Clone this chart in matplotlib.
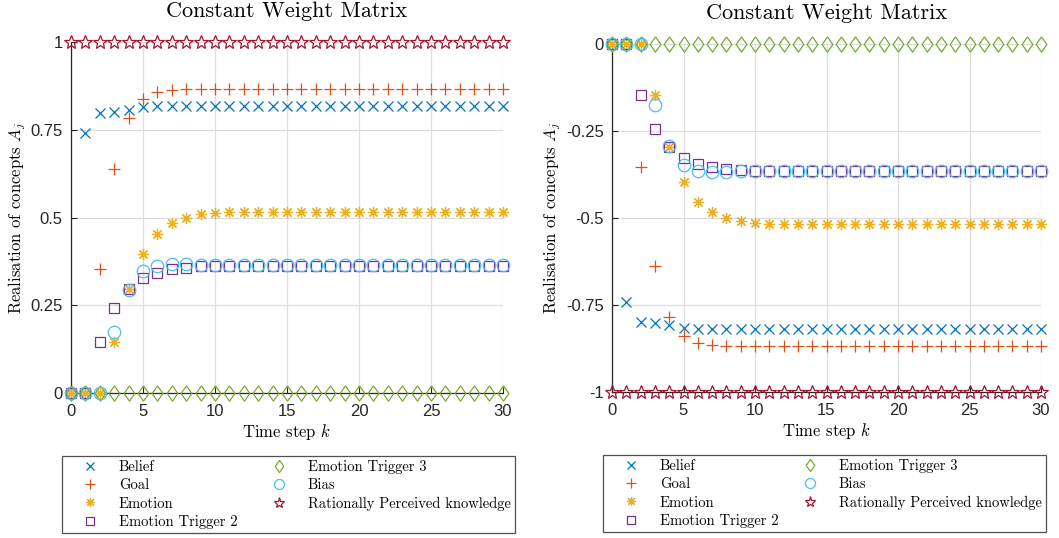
import matplotlib
matplotlib.use("Agg")
import matplotlib.pyplot as plt
from matplotlib.ticker import FixedLocator, FixedFormatter

plt.rcParams['mathtext.fontset'] = 'cm'
plt.rcParams['axes.unicode_minus'] = False

steps = list(range(31))

# ---- left panel (positive) ----
belief_L = [0, 0.740, 0.799, 0.802, 0.808, 0.815] + [0.817] * 25
goal_L = [0, 0, 0.354, 0.637, 0.783, 0.838, 0.857, 0.863, 0.867] + [0.868] * 22
emotion_L = [0, 0, 0, 0.145, 0.295, 0.395, 0.452, 0.483, 0.500, 0.509, 0.513] + [0.517] * 20
trig2_L = [0, 0, 0.146, 0.243, 0.296, 0.326, 0.343, 0.352, 0.357, 0.361] + [0.363] * 21
trig3_L = [0] * 31
bias_L = [0, 0, 0, 0.174, 0.293, 0.348, 0.363, 0.366, 0.366, 0.365] + [0.364] * 21
rational_L = [1] * 31

# ---- right panel (negative) ----
belief_R = [0, -0.740, -0.799, -0.802, -0.808, -0.815] + [-0.817] * 25
goal_R = [0, 0, -0.354, -0.637, -0.783, -0.838, -0.857, -0.863, -0.867] + [-0.868] * 22
emotion_R = [0, 0, 0, -0.145, -0.295, -0.395, -0.452, -0.483, -0.500, -0.509, -0.513] + [-0.517] * 20
trig2_R = [0, 0, -0.146, -0.243, -0.296, -0.326, -0.343, -0.352, -0.357, -0.361] + [-0.363] * 21
trig3_R = [0] * 31
bias_R = [0, 0, 0, -0.174, -0.293, -0.348, -0.363, -0.366, -0.366, -0.365] + [-0.364] * 21
rational_R = [-1] * 31

labels = ["Belief", "Goal", "Emotion", "Emotion Trigger 2", "Emotion Trigger 3",
          "Bias", "Rationally Perceived knowledge"]
colors = ["#0072BD", "#D95319", "#EDB120", "#7E2F8E", "#77AC30", "#4DBEEE", "#A2142F"]
diamond = [(0, 1), (0.7, 0), (0, -1), (-0.7, 0), (0, 1)]
markers = ["x", "+", (8, 2, 0), "s", diamond, "o", "*"]
msizes = [7, 9, 8, 7.5, 11, 9, 10]
open_markers = [False, False, False, True, True, True, True]

xticks = [0, 5, 10, 15, 20, 25, 30]
xticklabels = ["0", "5", "10", "15", "20", "25", "30"]
yticks_L = [0, 0.25, 0.5, 0.75, 1]
yticklabels_L = ["0", "0.25", "0.5", "0.75", "1"]
yticks_R = [-1, -0.75, -0.5, -0.25, 0]
yticklabels_R = ["-1", "-0.75", "-0.5", "-0.25", "0"]

fig = plt.figure(figsize=(10.59, 5.38), dpi=100)
axL = fig.add_axes([71 / 1059, 1 - 392.7 / 538, 432 / 1059, 350.4 / 538])
axR = fig.add_axes([612 / 1059, 1 - 392.3 / 538, 429 / 1059, 348 / 538])

serif = 'cmr10'
tickcol = '#262626'


def draw(ax, series, ylim, yticks, yticklabels):
    handles = []
    for ys, lab, c, m, ms, op in zip(series, labels, colors, markers, msizes, open_markers):
        h, = ax.plot(steps, ys, linestyle='none', marker=m, markersize=ms,
                     color=c, markerfacecolor='none' if op else c,
                     markeredgecolor=c, markeredgewidth=0.9, label=lab,
                     clip_on=False, zorder=3)
        handles.append(h)
    ax.set_xlim(0, 30)
    ax.set_ylim(*ylim)
    ax.xaxis.set_major_locator(FixedLocator(xticks))
    ax.xaxis.set_major_formatter(FixedFormatter(xticklabels))
    ax.yaxis.set_major_locator(FixedLocator(yticks))
    ax.yaxis.set_major_formatter(FixedFormatter(yticklabels))
    for s in ['top', 'right']:
        ax.spines[s].set_visible(False)
    for s in ['left', 'bottom']:
        ax.spines[s].set_color(tickcol)
        ax.spines[s].set_linewidth(0.9)
        ax.spines[s].set_zorder(2.5)
    ax.grid(True, color='#dedede', linewidth=0.9)
    ax.set_axisbelow(True)
    ax.tick_params(direction='in', length=4, width=0.8, color=tickcol,
                   labelcolor=tickcol, labelsize=12)
    ax.tick_params(axis='x', pad=8)
    ax.tick_params(axis='y', pad=6)
    for t in ax.get_xticklabels() + ax.get_yticklabels():
        t.set_fontfamily('Liberation Sans')
    ax.set_title("Constant Weight Matrix", fontfamily=serif, fontsize=16, pad=18.5)
    ax.set_xlabel("Time step $k$", fontfamily=serif, fontsize=12, labelpad=2)
    ax.set_ylabel("Realisation of concepts $A_j$", fontfamily=serif, fontsize=12,
                  labelpad=2)
    return handles


hL = draw(axL, [belief_L, goal_L, emotion_L, trig2_L, trig3_L, bias_L, rational_L],
          (0, 1), yticks_L, yticklabels_L)
hR = draw(axR, [belief_R, goal_R, emotion_R, trig2_R, trig3_R, bias_R, rational_R],
          (-1, 0), yticks_R, yticklabels_R)


def add_legend(handles, x0, x1, ytop):
    leg = fig.legend(handles, labels, ncol=2, loc='upper left',
                     bbox_to_anchor=(x0 / 1059, 1 - ytop / 538, (x1 - x0) / 1059, 0),
                     mode='expand', prop={'family': serif, 'size': 10.5},
                     frameon=True, fancybox=False, edgecolor='#262626',
                     borderaxespad=0, labelspacing=0.3, handletextpad=0.4,
                     borderpad=0.3, markerscale=0.8, handlelength=3.2,
                     columnspacing=1.0)
    leg.get_frame().set_linewidth(0.9)
    return leg


add_legend(hL, 62, 515, 456)
add_legend(hR, 603, 1046, 455)

fig.savefig("out.png", dpi=100)
